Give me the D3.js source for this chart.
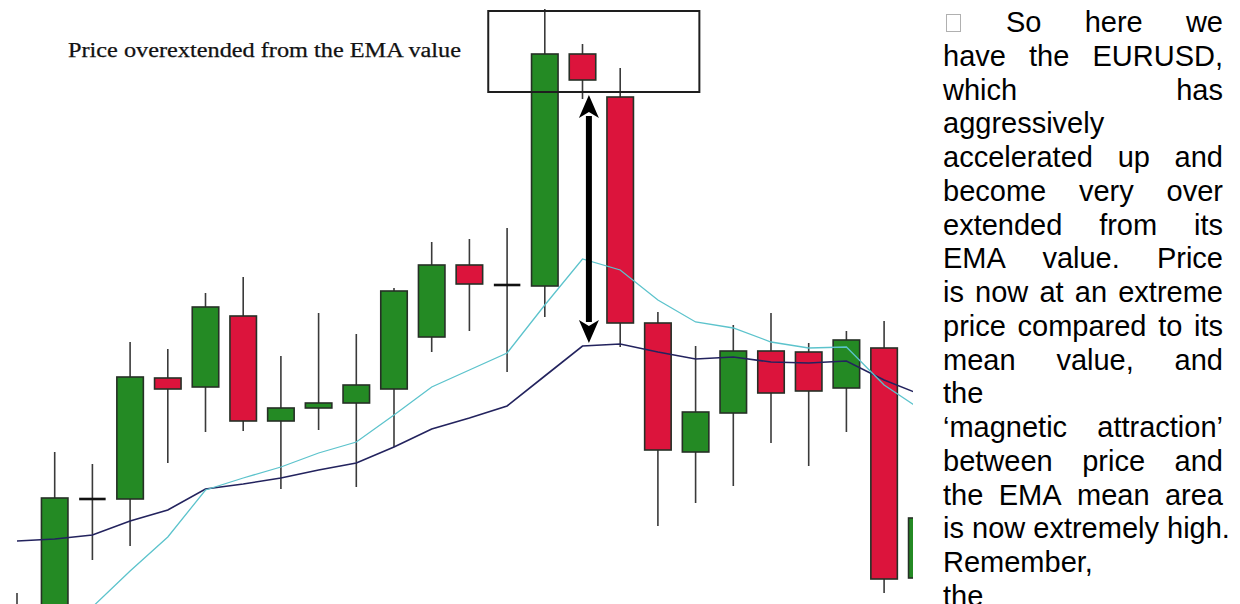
<!DOCTYPE html>
<html>
<head>
<meta charset="utf-8">
<script src="https://cdn.jsdelivr.net/npm/d3@7"></script>
<style>
  html, body { margin: 0; padding: 0; background: #fff; overflow: hidden; }
</style>
</head>
<body>
<div id="container"></div>
<script>
// EURUSD candles, left to right (the last one is cut off by the text column)
const opens  = [1.2960, 1.2964, 1.3105, 1.3105, 1.3226, 1.3217, 1.3288, 1.3183, 1.3196, 1.3201, 1.3215, 1.3267, 1.3339,
                1.3319, 1.3318, 1.3550, 1.3507, 1.3281, 1.3152, 1.3191, 1.3253, 1.3252, 1.3216, 1.3256, 1.3026];
const highs  = [1.3011, 1.3152, 1.3140, 1.3262, 1.3255, 1.3311, 1.3327, 1.3248, 1.3291, 1.3270, 1.3316, 1.3362, 1.3365,
                1.3376, 1.3595, 1.3560, 1.3536, 1.3292, 1.3258, 1.3279, 1.3291, 1.3261, 1.3273, 1.3283, 1.3104];
const lows   = [1.2930, 1.2944, 1.3044, 1.3058, 1.3141, 1.3172, 1.3173, 1.3115, 1.3174, 1.3117, 1.3157, 1.3252, 1.3273,
                1.3232, 1.3287, 1.3505, 1.3257, 1.3078, 1.3101, 1.3118, 1.3161, 1.3138, 1.3172, 1.3011, 1.3014];
const closes = [1.2990, 1.3106, 1.3105, 1.3227, 1.3215, 1.3297, 1.3183, 1.3196, 1.3201, 1.3219, 1.3313, 1.3339, 1.3320,
                1.3319, 1.3550, 1.3524, 1.3281, 1.3154, 1.3192, 1.3253, 1.3211, 1.3213, 1.3264, 1.3025, 1.3086];

// the two EMAs
const emaFast = [1.2924, 1.2961, 1.2997, 1.3033, 1.3067, 1.3114, 1.3126, 1.3137, 1.3151, 1.3162, 1.3189, 1.3217, 1.3234,
                 1.3251, 1.3299, 1.3345, 1.3334, 1.3304, 1.3282, 1.3276, 1.3262, 1.3256, 1.3257, 1.3219, 1.3194];
const emaSlow = [1.3063, 1.3065, 1.3069, 1.3083, 1.3094, 1.3115, 1.3120, 1.3126, 1.3134, 1.3141, 1.3157, 1.3175, 1.3186,
                 1.3198, 1.3228, 1.3258, 1.3260, 1.3252, 1.3245, 1.3247, 1.3242, 1.3241, 1.3243, 1.3224, 1.3209];

// annotation: box round the top, arrow from price down to the EMA
const boxSpan = [12.5, 18.1];
const boxPrice = [1.3512, 1.3593];
const arrowAt = 15.17;
const arrowPrice = [1.3509, 1.3261];
const label = 'Price overextended from the EMA value';

const textLines = [
    'So here we', 'have the EURUSD,', 'which has', 'aggressively', 'accelerated up and',
    'become very over', 'extended from its', 'EMA value. Price', 'is now at an extreme',
    'price compared to its', 'mean value, and', 'the', '\u2018magnetic attraction\u2019',
    'between price and', 'the EMA mean area', 'is now extremely high.', 'Remember,', 'the'
];
const justified = [1, 1, 1, 0, 1, 1, 1, 1, 1, 1, 1, 0, 1, 1, 1, 0, 0, 0];

const W = 1240, H = 604;
const chartRight = 913;

const svg = d3.select('#container')
    .append('svg')
    .attr('width', W)
    .attr('height', H);

const candles = opens.map((o, i) => ({ i, o, h: highs[i], l: lows[i], c: closes[i] }));

const x = d3.scaleLinear().domain([0, candles.length - 1]).range([17, 921.8]);
const y = d3.scaleLinear().domain([1.3000, 1.3604]).range([H, 0]);
const bodyW = 26.5;

svg.append('clipPath')
    .attr('id', 'clip')
    .append('rect')
    .attr('width', chartRight)
    .attr('height', H);

const chart = svg.append('g').attr('clip-path', 'url(#clip)');

// wicks
chart.selectAll('line.wick')
    .data(candles)
    .enter()
    .append('line')
    .attr('class', 'wick')
    .attr('x1', d => x(d.i))
    .attr('x2', d => x(d.i))
    .attr('y1', d => y(d.h))
    .attr('y2', d => y(d.l))
    .attr('stroke', '#3a3a3a')
    .attr('stroke-width', 1.6);

// bodies
chart.selectAll('rect.body')
    .data(candles.filter(d => d.o !== d.c))
    .enter()
    .append('rect')
    .attr('class', 'body')
    .attr('x', d => x(d.i) - bodyW / 2)
    .attr('width', bodyW)
    .attr('y', d => y(Math.max(d.o, d.c)))
    .attr('height', d => Math.abs(y(d.o) - y(d.c)))
    .attr('fill', d => d.c > d.o ? '#248a24' : '#dc143c')
    .attr('stroke', '#263026')
    .attr('stroke-width', 1.6);

// dojis
chart.selectAll('line.doji')
    .data(candles.filter(d => d.o === d.c))
    .enter()
    .append('line')
    .attr('class', 'doji')
    .attr('x1', d => x(d.i) - bodyW / 2)
    .attr('x2', d => x(d.i) + bodyW / 2)
    .attr('y1', d => y(d.o))
    .attr('y2', d => y(d.o))
    .attr('stroke', '#111')
    .attr('stroke-width', 2.6);

// EMA lines
const line = d3.line().x((d, i) => x(i)).y(d => y(d));
chart.append('path')
    .attr('d', line(emaSlow))
    .attr('fill', 'none')
    .attr('stroke', '#23235e')
    .attr('stroke-width', 1.6);
chart.append('path')
    .attr('d', line(emaFast))
    .attr('fill', 'none')
    .attr('stroke', '#5cc3cc')
    .attr('stroke-width', 1.3);

// annotation box
chart.append('rect')
    .attr('x', x(boxSpan[0]))
    .attr('y', y(boxPrice[1]))
    .attr('width', x(boxSpan[1]) - x(boxSpan[0]))
    .attr('height', y(boxPrice[0]) - y(boxPrice[1]))
    .attr('fill', 'none')
    .attr('stroke', '#1e1e1e')
    .attr('stroke-width', 2);

// double arrow
const ax = x(arrowAt), ayTop = y(arrowPrice[0]), ayBot = y(arrowPrice[1]);
const headL = 23, headW = 10;
chart.append('line')
    .attr('x1', ax).attr('x2', ax)
    .attr('y1', ayTop + headL - 2).attr('y2', ayBot - headL + 2)
    .attr('stroke', '#000')
    .attr('stroke-width', 6);
chart.append('path')
    .attr('d', `M${ax},${ayTop}L${ax + headW},${ayTop + headL}L${ax},${ayTop + headL - 6}L${ax - headW},${ayTop + headL}Z`)
    .attr('fill', '#000');
chart.append('path')
    .attr('d', `M${ax},${ayBot}L${ax + headW},${ayBot - headL}L${ax},${ayBot - headL + 6}L${ax - headW},${ayBot - headL}Z`)
    .attr('fill', '#000');

chart.append('text')
    .attr('x', 68)
    .attr('y', 57)
    .attr('font-family', "'Liberation Serif', 'DejaVu Serif', serif")
    .attr('font-size', 20)
    .attr('fill', '#111')
    .attr('stroke', '#111')
    .attr('stroke-width', 0.25)
    .attr('textLength', 393)
    .attr('lengthAdjust', 'spacingAndGlyphs')
    .text(label);

// right hand text column, justified like the original document
const tg = svg.append('g')
    .attr('font-family', "'Liberation Sans', Arial, sans-serif")
    .attr('font-size', 29)
    .attr('fill', '#000');

tg.append('rect')
    .attr('x', 946.5).attr('y', 14.5)
    .attr('width', 14).attr('height', 17)
    .attr('fill', 'none')
    .attr('stroke', '#b0b0b0')
    .attr('stroke-width', 1);

const textLeft = 943, textRight = 1223;
textLines.forEach((ln, i) => {
    const ty = 32 + i * 33.75;
    const x0 = i === 0 ? 1006 : textLeft;
    const words = ln.split(' ');
    const t = tg.append('text').attr('y', ty);
    if (justified[i] && words.length > 1) {
        const spans = words.map(w => t.append('tspan').text(w));
        const widths = spans.map(s => s.node().getComputedTextLength());
        const gap = (textRight - x0 - d3.sum(widths)) / (words.length - 1);
        let cx = x0;
        spans.forEach((s, k) => { s.attr('x', cx); cx += widths[k] + gap; });
    } else {
        t.attr('x', x0).text(ln);
    }
});
</script>
</body>
</html>
